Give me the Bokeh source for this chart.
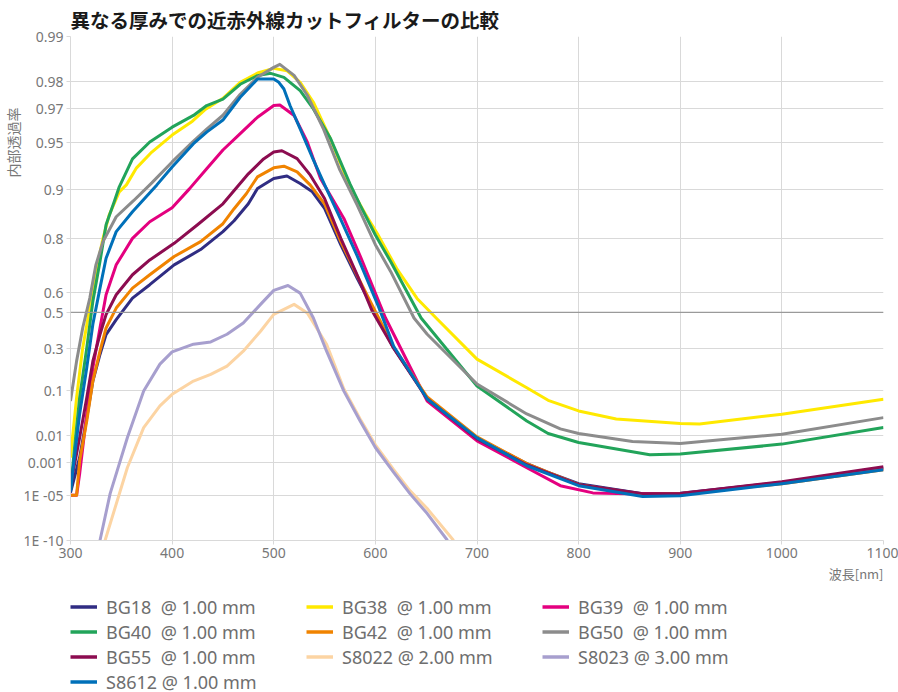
import numpy as np
from bokeh.plotting import figure
from bokeh.layouts import column
from bokeh.models import (Range1d, FixedTicker, CustomJSTickFormatter, Span, Title,
                          Legend, LegendItem)
from bokeh.embed import file_html
from bokeh.resources import INLINE

# ---------------- data (internal transmittance vs wavelength [nm]) ----------------
wl_bg18 = [300, 309, 316, 322, 329, 335, 345, 361, 378, 402, 428, 450, 461, 475, 484, 500, 513, 526, 538, 550,
           566, 582, 599, 618, 651, 700, 749, 770, 800, 863, 900, 1000, 1100]
t_bg18 = [1.6e-5, 0.0016, 0.0304, 0.1364, 0.2659, 0.3771, 0.46, 0.5726, 0.6352, 0.7157, 0.7675, 0.8179, 0.8436,
          0.8771, 0.9015, 0.9149, 0.9180, 0.9084, 0.8967, 0.8688, 0.7816, 0.6634, 0.5050, 0.3003, 0.0755, 0.00855,
          8.4e-4, 3.05e-4, 6.6e-5, 1.35e-5, 1.42e-5, 8.0e-5, 5.35e-4]

wl_bg38 = [300, 306, 312, 319, 325, 332, 338, 348, 355, 365, 380, 400, 420, 433, 450, 467, 484, 500, 513, 526,
           539, 555, 575, 590, 602, 621, 641, 661, 700, 749, 770, 800, 837, 900, 919, 1000, 1100]
t_bg38 = [0.0016, 0.0764, 0.302, 0.5223, 0.6906, 0.8002, 0.8556, 0.8967, 0.9066, 0.9273, 0.9425, 0.9554, 0.9638,
          0.9698, 0.9744, 0.9799, 0.98254, 0.98374, 0.98316, 0.9799, 0.97282, 0.95403, 0.904, 0.8584, 0.8127,
          0.7018, 0.5711, 0.462, 0.2409, 0.1101, 0.0688, 0.0428, 0.0284, 0.0218, 0.0214, 0.0363, 0.0717]

wl_bg39 = [300, 306, 309, 316, 322, 329, 335, 345, 361, 378, 400, 417, 434, 450, 467, 484, 500, 506, 520, 533,
           546, 569, 586, 610, 651, 700, 749, 782, 814, 850, 900, 1000, 1100]
t_bg39 = [1e-5, 1e-5, 2.6e-4, 0.0369, 0.1967, 0.414, 0.5891, 0.7157, 0.8002, 0.8415, 0.8700, 0.9010, 0.9264,
          0.9442, 0.9563, 0.9659, 0.97142, 0.97168, 0.9668, 0.9505, 0.9149, 0.8487, 0.739, 0.4692, 0.0669,
          0.00684, 5.35e-4, 4.9e-5, 1.53e-5, 1.35e-5, 1.35e-5, 7.7e-5, 4.76e-4]

wl_bg40 = [300, 304, 309, 316, 322, 329, 335, 343, 348, 361, 378, 400, 421, 434, 450, 467, 484, 497, 510, 526,
           539, 556, 575, 585, 600, 615, 645, 700, 749, 770, 800, 870, 900, 1000, 1100]
t_bg40 = [2.24e-5, 0.00399, 0.0764, 0.302, 0.5564, 0.7275, 0.8347, 0.8806, 0.904, 0.9363, 0.9505, 0.9604, 0.9668,
          0.97142, 0.97402, 0.97929, 0.98184, 0.98246, 0.98137, 0.97722, 0.96993, 0.95288, 0.908, 0.8749, 0.8094,
          0.7275, 0.4692, 0.1165, 0.0254, 0.01158, 0.00599, 0.00208, 0.00222, 0.00528, 0.0171]

wl_bg42 = [300, 306, 309, 316, 322, 329, 335, 345, 361, 378, 402, 428, 450, 461, 473, 484, 500, 510, 523, 536, 550,
           566, 582, 599, 618, 651, 700, 749, 800, 863, 900, 1000, 1100]
t_bg42 = [1e-5, 1e-5, 1.15e-3, 0.0254, 0.1364, 0.2838, 0.414, 0.5223, 0.6199, 0.6774, 0.7449, 0.7912, 0.837,
          0.8682, 0.8938, 0.9169, 0.9273, 0.929, 0.9228, 0.9063, 0.8771, 0.7912, 0.6745, 0.5156, 0.3058, 0.0785,
          0.00919, 8.4e-4, 5.7e-5, 1.14e-5, 1.35e-5, 6.6e-5, 4.23e-4]

wl_bg50 = [300, 306, 312, 319, 325, 332, 345, 362, 380, 400, 420, 434, 450, 467, 484, 500, 506, 520, 533, 549,
           565, 582, 600, 615, 638, 651, 700, 749, 782, 800, 853, 900, 1000, 1100]
t_bg50 = [0.0669, 0.2306, 0.414, 0.5726, 0.7157, 0.7912, 0.8522, 0.8825, 0.9093, 0.9334, 0.9505, 0.9592, 0.9669,
          0.9759, 0.98137, 0.98399, 0.9847, 0.98192, 0.97554, 0.9592, 0.925, 0.8754, 0.7824, 0.6906, 0.4692,
          0.3788, 0.1243, 0.03692, 0.01576, 0.01158, 0.00648, 0.00554, 0.0111, 0.03045]

wl_bg55 = [300, 309, 316, 322, 329, 335, 345, 361, 378, 402, 425, 450, 475, 490, 500, 508, 523, 536, 550, 566,
           582, 597, 618, 651, 700, 749, 800, 863, 900, 1000, 1100]
t_bg55 = [4.9e-5, 0.00874, 0.0764, 0.2306, 0.3771, 0.4874, 0.5891, 0.6774, 0.7331, 0.7862, 0.8347, 0.8771, 0.9206,
          0.9363, 0.9425, 0.9436, 0.9366, 0.919, 0.8862, 0.8002, 0.6774, 0.505, 0.3003, 0.0726, 0.00794, 7.5e-4,
          5.7e-5, 1.35e-5, 1.4e-5, 8.9e-5, 6.0e-4]

wl_s8022 = [334, 356, 372, 388, 400, 421, 438, 454, 470, 487, 500, 520, 533, 552, 569, 585, 600, 618, 634, 651, 677]
t_s8022 = [1e-10, 5.5e-4, 0.0171, 0.054, 0.087, 0.1364, 0.1656, 0.2052, 0.2838, 0.3955, 0.4891, 0.5413, 0.496,
           0.3226, 0.1052, 0.0284, 0.00499, 4.23e-4, 2.24e-5, 7.5e-7, 1e-10]

wl_s8023 = [329, 339, 356, 372, 388, 400, 421, 438, 454, 470, 487, 500, 514, 526, 539, 552, 569, 585, 600, 618,
            634, 651, 671]
t_s8023 = [1e-10, 1.35e-5, 0.00874, 0.0979, 0.2152, 0.28, 0.3226, 0.3354, 0.3788, 0.4417, 0.5413, 0.6094, 0.6318,
           0.5967, 0.4692, 0.2838, 0.0979, 0.0254, 0.00399, 3.05e-4, 1.35e-5, 2.45e-7, 1e-10]

wl_s8612 = [300, 302, 309, 316, 322, 329, 335, 345, 361, 385, 400, 421, 434, 450, 467, 484, 500, 505, 510, 516,
            526, 539, 551, 566, 582, 603, 618, 651, 700, 749, 800, 863, 900, 1000, 1100]
t_s8612 = [2e-5, 2.6e-4, 0.0369, 0.1967, 0.4346, 0.6199, 0.739, 0.8179, 0.8623, 0.9066, 0.9283, 0.9492, 0.9573,
           0.9644, 0.97479, 0.98088, 0.98088, 0.9799, 0.97776, 0.97142, 0.9594, 0.9353, 0.904, 0.8459, 0.748,
           0.5312, 0.3115, 0.0726, 0.00855, 6.7e-4, 4.9e-5, 8.0e-6, 9.5e-6, 6.6e-5, 4.23e-4]

series_names = ["BG18  @ 1.00 mm", "BG38  @ 1.00 mm", "BG39  @ 1.00 mm",
                "BG40  @ 1.00 mm", "BG42  @ 1.00 mm", "BG50  @ 1.00 mm",
                "BG55  @ 1.00 mm", "S8022 @ 2.00 mm", "S8023 @ 3.00 mm",
                "S8612 @ 1.00 mm"]

y_tick_values = [0.99, 0.98, 0.97, 0.95, 0.9, 0.8, 0.6, 0.5, 0.3, 0.1, 0.01, 0.001, 1e-5, 1e-10]
y_tick_labels = ["0.99", "0.98", "0.97", "0.95", "0.9", "0.8", "0.6", "0.5", "0.3", "0.1",
                 "0.01", "0.001", "1E -05", "1E -10"]
x_ticks = [300, 400, 500, 600, 700, 800, 900, 1000, 1100]

# ---------------- styling ----------------
colors = ["#302d83", "#ffe900", "#e4007f", "#22a45a", "#f08300",
          "#8c8c8c", "#8c0c50", "#fcd4a3", "#a79fce", "#0070b9"]
TEXT_FONT = "Noto Sans"
JP_FONT = "Noto Sans CJK JP"


def tr(t):
    """Transmittance scale: log10(-log10(T))."""
    return np.log10(-np.log10(np.asarray(t, dtype=float)))


W = 898
H_MAIN = 594
H_LEG = 98

p = figure(width=W, height=H_MAIN, output_backend="svg", toolbar_location=None,
           x_range=Range1d(300, 1100),
           y_range=Range1d(float(tr(1e-10)), float(tr(0.99))),
           min_border_left=70, min_border_right=15, min_border_top=34, min_border_bottom=54)
p.outline_line_color = None
p.background_fill_color = "white"
p.border_fill_color = "white"

p.title.text = "異なる厚みでの近赤外線カットフィルターの比較"
p.title.text_font = JP_FONT
p.title.text_font_size = "19.5px"
p.title.text_font_style = "bold"
p.title.text_color = "#1a1a1a"
p.title.align = "left"
p.title.offset = 0
p.title.standoff = 5

ytv = [float(v) for v in tr(y_tick_values)]
p.yaxis.ticker = FixedTicker(ticks=ytv)
p.yaxis.formatter = CustomJSTickFormatter(args=dict(vals=ytv, labs=y_tick_labels), code="""
let best = 0, bd = 1e9;
for (let i = 0; i < vals.length; i++) { const d = Math.abs(vals[i] - tick); if (d < bd) { bd = d; best = i; } }
return labs[best];
""")
p.xaxis.ticker = FixedTicker(ticks=x_ticks)

for ax in (p.xaxis[0], p.yaxis[0]):
    ax.axis_line_color = "#d9d9d9"
    ax.major_tick_line_color = "#d9d9d9"
    ax.major_tick_out = 4
    ax.major_tick_in = 0
    ax.minor_tick_line_color = None
    ax.major_label_text_font = TEXT_FONT
    ax.major_label_text_font_size = "14px"
    ax.major_label_text_color = "#777777"
p.yaxis.major_label_standoff = 3
p.xaxis.major_label_standoff = 3

p.xgrid.grid_line_color = "#d9d9d9"
p.ygrid.grid_line_color = "#d9d9d9"

p.add_layout(Span(location=float(tr(0.5)), dimension="width", line_color="#9a9a9a", line_width=1.3))

all_wl = [wl_bg18, wl_bg38, wl_bg39, wl_bg40, wl_bg42, wl_bg50, wl_bg55, wl_s8022, wl_s8023, wl_s8612]
all_t = [t_bg18, t_bg38, t_bg39, t_bg40, t_bg42, t_bg50, t_bg55, t_s8022, t_s8023, t_s8612]

for wl, tt, c in zip(all_wl, all_t, colors):
    p.line(wl, tr(tt), line_color=c, line_width=3, line_join="round")

# y-axis label (vertical, near the top of the axis)
p.add_layout(Title(text="内部透過率", align="left", offset=363, standoff=-4,
                   text_font=JP_FONT, text_font_size="14px", text_font_style="normal",
                   text_color="#777777"), "left")
# x-axis label (right aligned, below the tick labels)
p.add_layout(Title(text="波長[nm]", align="right", standoff=2,
                   text_font=JP_FONT, text_font_size="13px", text_font_style="normal",
                   text_color="#777777"), "below")

# ---------------- legend (separate strip below the plot) ----------------
lg = figure(width=W, height=H_LEG, output_backend="svg", toolbar_location=None,
            x_range=Range1d(0, 1), y_range=Range1d(0, 1),
            x_axis_location=None, y_axis_location=None,
            min_border_left=70, min_border_right=0, min_border_top=0, min_border_bottom=0)
lg.outline_line_color = None
lg.xgrid.visible = False
lg.ygrid.visible = False
items = []
for name, c in zip(series_names, colors):
    r = lg.line([-3, -2], [-3, -2], line_color=c, line_width=3.5)
    items.append(LegendItem(label=name, renderers=[r]))

legend = Legend(items=items, location="top_left", orientation="horizontal", ncols=3,
                glyph_width=27, glyph_height=25, label_height=25, label_width=200,
                label_standoff=9, spacing=0, padding=0, margin=0,
                label_text_font=TEXT_FONT, label_text_font_size="18px",
                label_text_color="#6e6e6e", border_line_color=None,
                background_fill_alpha=0)
lg.add_layout(legend, "center")

layout = column(p, lg, spacing=0)
open("out.html", "w").write(file_html(layout, INLINE))
